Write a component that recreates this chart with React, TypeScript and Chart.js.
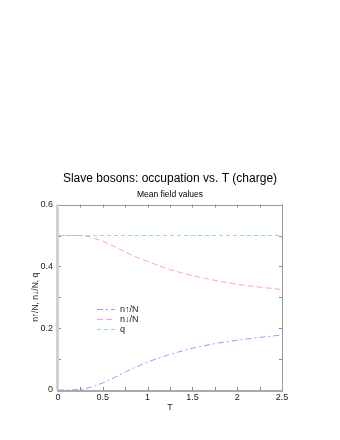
import React, { useEffect, useRef } from "react";
import { Chart, registerables } from "chart.js";

Chart.register(...registerables);

const temps = [0, 0.1, 0.2, 0.25, 0.3, 0.4, 0.5, 0.6, 0.75, 0.9, 1.0, 1.1, 1.25, 1.5, 1.75, 2.0, 2.25, 2.5];
const nUp = [0, 0, 0.001, 0.002, 0.004, 0.012, 0.023, 0.036, 0.058, 0.078, 0.09, 0.101, 0.115, 0.135, 0.15, 0.161, 0.17, 0.178];
const nDown = [0.5, 0.5, 0.5, 0.5, 0.499, 0.492, 0.481, 0.468, 0.447, 0.427, 0.416, 0.405, 0.39, 0.37, 0.355, 0.342, 0.333, 0.325];
const qVals = [0.5, 0.5, 0.5, 0.5, 0.5, 0.5, 0.5, 0.5, 0.5, 0.5, 0.5, 0.5, 0.5, 0.5, 0.5, 0.5, 0.5, 0.5];
const seriesLabels = ["n\u2191/N", "n\u2193/N", "q"];
const titleText = "Slave bosons: occupation vs. T (charge)";
const subtitleText = "Mean field values";
const xTitle = "T";
const yTitle = "n\u2191/N, n\u2193/N, q";

const FONT = "'Liberation Sans', Arial, Helvetica, sans-serif";

const framePlugin = {
  id: "frame",
  beforeDatasetsDraw(chart: any) {
    const { ctx, chartArea: a, scales } = chart;
    ctx.save();
    ctx.strokeStyle = "#888";
    ctx.lineWidth = 1;
    const len = 3;
    scales.x.ticks.forEach((t: any) => {
      const px = Math.round(scales.x.getPixelForValue(t.value)) + 0.5;
      ctx.beginPath();
      ctx.moveTo(px, a.bottom);
      ctx.lineTo(px, a.bottom - len);
      ctx.moveTo(px, a.top);
      ctx.lineTo(px, a.top + len);
      ctx.stroke();
    });
    scales.y.ticks.forEach((t: any) => {
      const py = Math.round(scales.y.getPixelForValue(t.value)) + 0.5;
      ctx.beginPath();
      ctx.moveTo(a.left, py);
      ctx.lineTo(a.left + len, py);
      ctx.moveTo(a.right, py);
      ctx.lineTo(a.right - len, py);
      ctx.stroke();
    });
    ctx.strokeStyle = "#999";
    ctx.lineWidth = 1;
    ctx.beginPath();
    ctx.moveTo(a.left, Math.round(a.top) + 0.5);
    ctx.lineTo(a.right, Math.round(a.top) + 0.5);
    ctx.moveTo(Math.round(a.right) + 0.5, a.top);
    ctx.lineTo(Math.round(a.right) + 0.5, a.bottom);
    ctx.stroke();
    ctx.strokeStyle = "#aaa";
    ctx.lineWidth = 2;
    ctx.beginPath();
    ctx.moveTo(a.left - 1, Math.round(a.bottom) + 1);
    ctx.lineTo(a.right + 1, Math.round(a.bottom) + 1);
    ctx.stroke();
    ctx.strokeStyle = "#d2d2d2";
    ctx.lineWidth = 3;
    ctx.beginPath();
    ctx.moveTo(Math.round(a.left) - 0.5, a.top);
    ctx.lineTo(Math.round(a.left) - 0.5, a.bottom);
    ctx.stroke();
    ctx.restore();
  },
  afterDatasetsDraw(chart: any) {
    const { ctx, chartArea: a } = chart;
    ctx.save();
    const lx = Math.round(a.left + 39);
    const ly = Math.round(a.top + 104);
    chart.data.datasets.forEach((ds: any, i: number) => {
      const y = ly + i * 10 + 0.5;
      ctx.strokeStyle = ds.borderColor;
      ctx.lineWidth = 1;
      ctx.setLineDash(ds.borderDash || []);
      ctx.beginPath();
      ctx.moveTo(lx, y);
      ctx.lineTo(lx + 18, y);
      ctx.stroke();
      ctx.setLineDash([]);
      ctx.fillStyle = "#222";
      ctx.font = "9px " + FONT;
      ctx.textBaseline = "middle";
      ctx.textAlign = "left";
      ctx.fillText(ds.label, lx + 23, y);
    });
    ctx.restore();
  },
};

export default function App() {
  const ref = useRef<HTMLCanvasElement | null>(null);
  useEffect(() => {
    if (!ref.current) return;
    const mk = (label: string, data: number[], color: string, dash: number[]) => ({
      label,
      data: temps.map((t, i) => ({ x: t, y: data[i] })),
      borderColor: color,
      backgroundColor: color,
      borderWidth: 1,
      borderDash: dash,
      pointRadius: 0,
      fill: false,
      clip: 4,
      yAxisID: "y",
      cubicInterpolationMode: "monotone" as const,
    });
    const chart = new Chart(ref.current, {
      type: "line",
      data: {
        datasets: [
          mk(seriesLabels[0], nUp, "#9a9aff", [6, 3, 2, 3]),
          mk(seriesLabels[1], nDown, "#ff99ee", [6, 3]),
          mk(seriesLabels[2], qVals, "#8fe88f", [4, 3]),
        ],
      },
      options: {
        animation: false,
        responsive: false,
        layout: { padding: { left: 0, right: 0, top: 0, bottom: 22 } },
        plugins: {
          legend: { display: false },
          tooltip: { enabled: false },
          title: {
            display: true,
            text: titleText,
            color: "#000",
            font: { family: FONT, size: 12, weight: "normal" },
            padding: { top: 171, bottom: 2 },
          },
          subtitle: {
            display: true,
            text: subtitleText,
            color: "#000",
            font: { family: FONT, size: 8.5, weight: "normal" },
            padding: { top: 2, bottom: 5 },
          },
        },
        scales: {
          x: {
            type: "linear",
            min: 0,
            max: 2.5,
            grid: { display: false, drawTicks: false },
            border: { display: false },
            ticks: {
              stepSize: 0.25,
              autoSkip: false,
              maxRotation: 0,
              padding: 2,
              color: "#222",
              font: { family: FONT, size: 9 },
              callback: (v: any) => {
                const n = Number(v);
                return Math.abs(n * 2 - Math.round(n * 2)) < 1e-6 ? String(Math.round(n * 10) / 10) : "";
              },
            },
            title: {
              display: true,
              text: xTitle,
              color: "#222",
              font: { family: FONT, size: 9 },
              padding: { top: 0, bottom: 5 },
            },
            afterFit: (s: any) => {
              s.height = 28;
            },
          },
          y: {
            min: 0,
            max: 0.6,
            grid: { display: false, drawTicks: false },
            border: { display: false },
            ticks: {
              stepSize: 0.1,
              autoSkip: false,
              padding: 5,
              color: "#222",
              font: { family: FONT, size: 9 },
              callback: (v: any) => {
                const k = Math.round(Number(v) * 10);
                if (k % 2 !== 0) return "";
                return k === 0 ? "0" : (k / 10).toFixed(1);
              },
            },
            title: {
              display: true,
              text: yTitle,
              color: "#222",
              font: { family: FONT, size: 8.5 },
              padding: { top: 31, bottom: 0 },
            },
            afterFit: (s: any) => {
              s.width = 58;
            },
          },
          yRight: {
            type: "linear",
            position: "right",
            display: true,
            grid: { display: false, drawTicks: false },
            border: { display: false },
            ticks: { display: false },
            afterFit: (s: any) => {
              s.width = 58;
            },
          },
        },
      },
      plugins: [framePlugin],
    });
    return () => chart.destroy();
  }, []);
  return (
    <div style={{ position: "absolute", left: 0, top: 0, width: 340, height: 440, background: "#fff" }}>
      <canvas ref={ref} width={340} height={440} style={{ display: "block", width: 340, height: 440 }} />
    </div>
  );
}
